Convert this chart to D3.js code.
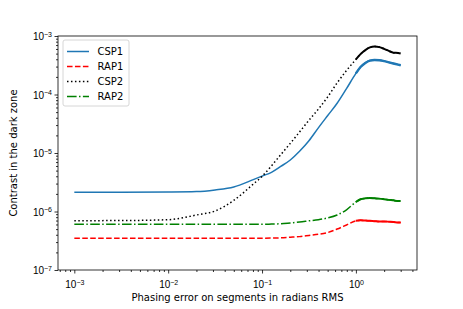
<!DOCTYPE html>
<html>
<head>
<meta charset="utf-8">
<script src="https://cdn.jsdelivr.net/npm/d3@7"></script>
<style>
  body { margin: 0; background: #fff; }
  svg { display: block; font-family: "DejaVu Sans", sans-serif; }
</style>
</head>
<body>
<svg id="chart" width="463" height="309"></svg>
<script>
// Phasing error (radians RMS)
const phasingError = [0.001, 0.00316, 0.01, 0.02, 0.0316, 0.05, 0.0794, 0.1, 0.126, 0.158, 0.2, 0.251, 0.316, 0.398, 0.501, 0.631, 0.794, 1.0, 1.12, 1.26, 1.41, 1.58, 1.78, 2.0, 2.24, 2.51, 2.82, 3.0];
const csp1 = [2.13e-6, 2.13e-6, 2.15e-6, 2.19e-6, 2.34e-6, 2.63e-6, 3.47e-6, 4.03e-6, 4.68e-6, 5.89e-6, 7.59e-6, 1.07e-5, 1.62e-5, 2.69e-5, 4.37e-5, 7.08e-5, 1.26e-4, 2.29e-4, 2.95e-4, 3.47e-4, 3.80e-4, 3.89e-4, 3.85e-4, 3.72e-4, 3.55e-4, 3.39e-4, 3.24e-4, 3.16e-4];
const rap1 = [3.48e-7, 3.48e-7, 3.48e-7, 3.48e-7, 3.48e-7, 3.48e-7, 3.48e-7, 3.48e-7, 3.51e-7, 3.55e-7, 3.63e-7, 3.72e-7, 3.89e-7, 4.07e-7, 4.37e-7, 5.01e-7, 5.89e-7, 6.92e-7, 7.08e-7, 7.0e-7, 6.92e-7, 6.84e-7, 6.76e-7, 6.76e-7, 6.68e-7, 6.61e-7, 6.46e-7, 6.46e-7];
const csp2 = [6.97e-7, 7.0e-7, 7.24e-7, 8.71e-7, 1.02e-6, 1.55e-6, 2.88e-6, 3.98e-6, 6.03e-6, 9.33e-6, 1.46e-5, 2.29e-5, 3.63e-5, 5.62e-5, 9.12e-5, 1.58e-4, 2.57e-4, 3.98e-4, 4.90e-4, 5.75e-4, 6.38e-4, 6.61e-4, 6.46e-4, 6.03e-4, 5.56e-4, 5.19e-4, 5.13e-4, 5.01e-4];
const rap2 = [6.03e-7, 6.03e-7, 6.03e-7, 6.03e-7, 6.03e-7, 6.03e-7, 6.03e-7, 6.03e-7, 6.10e-7, 6.17e-7, 6.38e-7, 6.61e-7, 6.92e-7, 7.24e-7, 7.76e-7, 8.71e-7, 1.07e-6, 1.45e-6, 1.62e-6, 1.68e-6, 1.70e-6, 1.68e-6, 1.66e-6, 1.62e-6, 1.58e-6, 1.55e-6, 1.51e-6, 1.51e-6];

const seriesNames = ["CSP1", "RAP1", "CSP2", "RAP2"];
const xTickExps = [-3, -2, -1, 0];
const yTickExps = [-7, -6, -5, -4, -3];
const xLabel = "Phasing error on segments in radians RMS";
const yLabel = "Contrast in the dark zone";

const styles = {
  CSP1: { color: "#1f77b4", dash: null, noisyFrom: 1.0, noisyWidth: 2.4 },
  RAP1: { color: "#ff0000", dash: "5.55,2.4", noisyFrom: 1.0, noisyWidth: 2.0 },
  CSP2: { color: "#000000", dash: "1.5,2.475", noisyFrom: 0.9, noisyWidth: 2.0 },
  RAP2: { color: "#008000", dash: "9.6,2.4,1.5,2.4", noisyFrom: 1.0, noisyWidth: 2.0 }
};
const seriesData = { CSP1: csp1, RAP1: rap1, CSP2: csp2, RAP2: rap2 };

const L = 58, R = 417, T = 36, B = 270;
const svg = d3.select("#chart");

const lx0 = Math.log10(d3.min(phasingError)), lx1 = Math.log10(d3.max(phasingError));
const m = (lx1 - lx0) * 0.05;
const x = d3.scaleLog().domain([Math.pow(10, lx0 - m), Math.pow(10, lx1 + m)]).range([L, R]);
const y = d3.scaleLog().domain([1e-7, 1e-3]).range([B, T]);

const plot = svg.append("g");
svg.append("clipPath").attr("id", "clip").append("rect")
  .attr("x", L).attr("y", T).attr("width", R - L).attr("height", B - T);

const line = d3.line().x(d => x(d[0])).y(d => y(d[1])).curve(d3.curveMonotoneX);
seriesNames.forEach(name => {
  const pts = phasingError.map((v, i) => [v, seriesData[name][i]]);
  plot.append("path")
    .attr("clip-path", "url(#clip)")
    .attr("d", line(pts))
    .attr("fill", "none")
    .attr("stroke", styles[name].color)
    .attr("stroke-width", 1.5)
    .attr("stroke-dasharray", styles[name].dash);
  const tail = pts.filter(p => p[0] >= styles[name].noisyFrom);
  plot.append("path")
    .attr("clip-path", "url(#clip)")
    .attr("d", line(tail))
    .attr("fill", "none")
    .attr("stroke", styles[name].color)
    .attr("stroke-width", styles[name].noisyWidth);
});

function supLabel(sel, e) {
  sel.text(null);
  sel.append("tspan").text("10");
  sel.append("tspan").attr("dy", "-0.45em").attr("font-size", "7px").text(e < 0 ? "\u2212" + Math.abs(e) : String(e));
}

const xMajor = xTickExps.map(e => Math.pow(10, e));
const xMinor = [];
for (let e = -4; e <= 1; e++) for (let k = 2; k <= 9; k++) {
  const v = k * Math.pow(10, e);
  if (v >= x.domain()[0] && v <= x.domain()[1]) xMinor.push(v);
}
const yMajor = yTickExps.map(e => Math.pow(10, e));
const yMinor = [];
for (let e = -7; e < -3; e++) for (let k = 2; k <= 9; k++) yMinor.push(k * Math.pow(10, e));

const xAxisMinor = d3.axisBottom(x).tickValues(xMinor).tickSize(2).tickFormat("");
const xAxisMajor = d3.axisBottom(x).tickValues(xMajor).tickSize(3.5).tickFormat("");
const yAxisMinor = d3.axisLeft(y).tickValues(yMinor).tickSize(2).tickFormat("");
const yAxisMajor = d3.axisLeft(y).tickValues(yMajor).tickSize(3.5).tickFormat("");

function styleAxis(g) {
  g.select(".domain").remove();
  g.selectAll(".tick line").attr("stroke", "#000").attr("stroke-width", 0.8);
}
svg.append("g").attr("transform", `translate(0,${B})`).call(xAxisMinor).call(styleAxis);
const gx = svg.append("g").attr("transform", `translate(0,${B})`).call(xAxisMajor).call(styleAxis);
svg.append("g").attr("transform", `translate(${L},0)`).call(yAxisMinor).call(styleAxis);
const gy = svg.append("g").attr("transform", `translate(${L},0)`).call(yAxisMajor).call(styleAxis);

gx.selectAll(".tick").each(function(d, i) {
  d3.select(this).append("text")
    .attr("y", 18).attr("text-anchor", "middle").attr("fill", "#000")
    .attr("font-size", "10px")
    .call(s => supLabel(s, xTickExps[i]));
});
gy.selectAll(".tick").each(function(d, i) {
  d3.select(this).append("text")
    .attr("x", -6).attr("dy", "0.35em").attr("text-anchor", "end").attr("fill", "#000")
    .attr("font-size", "10px")
    .call(s => supLabel(s, yTickExps[i]));
});

svg.append("rect").attr("x", L).attr("y", T).attr("width", R - L).attr("height", B - T)
  .attr("fill", "none").attr("stroke", "#000").attr("stroke-width", 0.8);

svg.append("text").attr("x", (L + R) / 2).attr("y", 301).attr("text-anchor", "middle")
  .attr("font-size", "10px").attr("fill", "#000").text(xLabel);
svg.append("text").attr("transform", `translate(17,${(T + B) / 2}) rotate(-90)`)
  .attr("text-anchor", "middle").attr("font-size", "10px").attr("fill", "#000").text(yLabel);

const lg = svg.append("g");
lg.append("rect").attr("x", 63).attr("y", 40).attr("width", 66).attr("height", 66)
  .attr("rx", 2).attr("fill", "#fff").attr("fill-opacity", 0.8)
  .attr("stroke", "#cccccc").attr("stroke-width", 0.8);
seriesNames.forEach((name, i) => {
  const yy = 51.5 + i * 15;
  lg.append("line").attr("x1", 67).attr("x2", 89).attr("y1", yy).attr("y2", yy)
    .attr("stroke", styles[name].color).attr("stroke-width", 1.5)
    .attr("stroke-dasharray", styles[name].dash);
  lg.append("text").attr("x", 97.5).attr("y", yy).attr("dy", "0.35em")
    .attr("font-size", "10px").attr("fill", "#000").text(name);
});
</script>
</body>
</html>
